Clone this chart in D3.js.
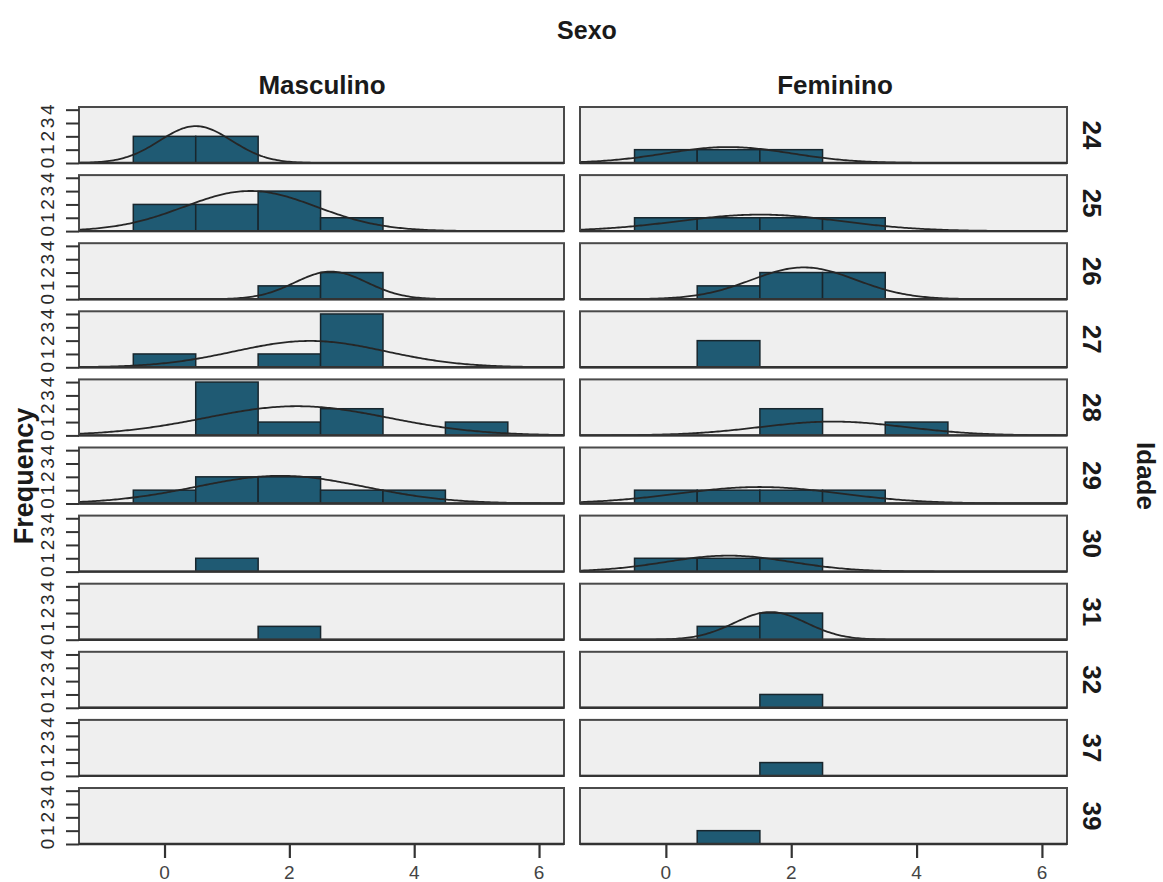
<!DOCTYPE html>
<html>
<head>
<meta charset="utf-8">
<script src="https://cdn.jsdelivr.net/npm/d3@7"></script>
<style>
  html, body { margin: 0; padding: 0; background: #ffffff; }
  svg { display: block; }
  text { font-family: "Liberation Sans", Arial, sans-serif; }
</style>
</head>
<body>
<svg id="chart" width="1163" height="882"></svg>
<script>
// ---------- data ----------
const sexes = ["Masculino", "Feminino"];
const ages = ["24", "25", "26", "27", "28", "29", "30", "31", "32", "37", "39"];
const binCenters = [0, 1, 2, 3, 4, 5];
// frequency per bin (bin centers 0..5), one row per age
const mascCounts = [
  [2, 2, 0, 0, 0, 0],
  [2, 2, 3, 1, 0, 0],
  [0, 0, 1, 2, 0, 0],
  [1, 0, 1, 4, 0, 0],
  [0, 4, 1, 2, 0, 1],
  [1, 2, 2, 1, 1, 0],
  [0, 1, 0, 0, 0, 0],
  [0, 0, 1, 0, 0, 0],
  [0, 0, 0, 0, 0, 0],
  [0, 0, 0, 0, 0, 0],
  [0, 0, 0, 0, 0, 0]
];
const femCounts = [
  [1, 1, 1, 0, 0, 0],
  [1, 1, 1, 1, 0, 0],
  [0, 1, 2, 2, 0, 0],
  [0, 2, 0, 0, 0, 0],
  [0, 0, 2, 0, 1, 0],
  [1, 1, 1, 1, 0, 0],
  [1, 1, 1, 0, 0, 0],
  [0, 1, 2, 0, 0, 0],
  [0, 0, 1, 0, 0, 0],
  [0, 0, 1, 0, 0, 0],
  [0, 1, 0, 0, 0, 0]
];
const xTicks = [0, 2, 4, 6];
const yTicks = [0, 1, 2, 3, 4];
const titleTop = "Sexo";
const titleRight = "Idade";
const titleLeft = "Frequency";

// ---------- layout ----------
const countsBySex = [mascCounts, femCounts];
const colX = [[79, 564], [580, 1067]];
const rowTop0 = 107, rowStep = 68.1, rowH = 56;
const xDomain = [-1.37, 6.4];
const yDomain = [0, 4.2];
const barFill = "#1f5a73", barStroke = "#18262d";
const panelFill = "#efefef", panelStroke = "#4a4a4a";

const svg = d3.select("#chart");

const yFor = (r) => d3.scaleLinear().domain(yDomain).range([rowTop0 + r * rowStep + rowH, rowTop0 + r * rowStep]);
const xFor = (c) => d3.scaleLinear().domain(xDomain).range(colX[c]);

function normalCurve(counts) {
  const vals = [];
  counts.forEach((n, i) => { for (let k = 0; k < n; k++) vals.push(binCenters[i]); });
  if (vals.length < 2) return null;
  const m = d3.mean(vals), sd = d3.deviation(vals);
  if (!sd || sd === 0) return null;
  const n = vals.length;
  const pts = d3.range(0, 241).map(i => {
    const x = xDomain[0] + (xDomain[1] - xDomain[0]) * i / 240;
    const y = n / (sd * Math.sqrt(2 * Math.PI)) * Math.exp(-0.5 * ((x - m) / sd) ** 2);
    return [x, y];
  });
  return pts;
}

sexes.forEach((sex, c) => {
  const x = xFor(c);
  ages.forEach((age, r) => {
    const y = yFor(r);
    const g = svg.append("g");
    const clipId = `clip-${c}-${r}`;
    g.append("clipPath").attr("id", clipId).append("rect")
      .attr("x", colX[c][0]).attr("y", y.range()[1])
      .attr("width", colX[c][1] - colX[c][0]).attr("height", rowH);
    g.append("rect")
      .attr("x", colX[c][0]).attr("y", y.range()[1])
      .attr("width", colX[c][1] - colX[c][0]).attr("height", rowH)
      .attr("fill", panelFill);
    const inner = g.append("g").attr("clip-path", `url(#${clipId})`);
    const counts = countsBySex[c][r];
    inner.selectAll("rect.bar")
      .data(binCenters.map((b, i) => ({ b, n: counts[i] })).filter(d => d.n > 0))
      .enter().append("rect").attr("class", "bar")
      .attr("x", d => x(d.b - 0.5))
      .attr("width", d => x(d.b + 0.5) - x(d.b - 0.5))
      .attr("y", d => y(d.n))
      .attr("height", d => y(0) - y(d.n))
      .attr("fill", barFill)
      .attr("stroke", barStroke)
      .attr("stroke-width", 1.5);
    const pts = normalCurve(counts);
    if (pts) {
      inner.append("path")
        .attr("d", d3.line().x(d => x(d[0])).y(d => y(d[1]))(pts))
        .attr("fill", "none").attr("stroke", "#262626").attr("stroke-width", 1.8);
    }
    g.append("rect")
      .attr("x", colX[c][0]).attr("y", y.range()[1])
      .attr("width", colX[c][1] - colX[c][0]).attr("height", rowH)
      .attr("fill", "none").attr("stroke", panelStroke).attr("stroke-width", 2);
    g.append("line")
      .attr("x1", colX[c][0]).attr("x2", colX[c][1])
      .attr("y1", y(0)).attr("y2", y(0))
      .attr("stroke", "#333").attr("stroke-width", 2.4);

    if (c === 0) {
      const ax = g.append("g").attr("transform", `translate(${colX[0][0]},0)`)
        .call(d3.axisLeft(y).tickValues(yTicks).tickSize(13).tickFormat(() => ""));
      ax.select(".domain").remove();
      ax.selectAll(".tick line").attr("stroke", "#333").attr("stroke-width", 2);
      g.selectAll("text.ylab").data(yTicks).enter().append("text").attr("class", "ylab")
        .attr("transform", d => `translate(54,${y(d)}) rotate(-90)`)
        .attr("text-anchor", "middle")
        .attr("font-size", 19).attr("fill", "#2a2a2a")
        .text(d => d);
    }
    if (c === 1) {
      g.append("text")
        .attr("transform", `translate(1083,${y.range()[1] + rowH / 2}) rotate(90)`)
        .attr("text-anchor", "middle")
        .attr("font-size", 26).attr("font-weight", "bold").attr("fill", "#1a1a1a")
        .text(age);
    }
    if (r === ages.length - 1) {
      const ax = g.append("g").attr("transform", `translate(0,${y(0)})`)
        .call(d3.axisBottom(x).tickValues(xTicks).tickSize(14).tickFormat(() => ""));
      ax.select(".domain").remove();
      ax.selectAll(".tick line").attr("stroke", "#333").attr("stroke-width", 2.2);
      g.selectAll("text.xlab").data(xTicks).enter().append("text").attr("class", "xlab")
        .attr("x", d => x(d)).attr("y", 879)
        .attr("text-anchor", "middle")
        .attr("font-size", 19).attr("fill", "#444")
        .text(d => d);
    }
  });
  svg.append("text")
    .attr("x", c === 0 ? 322 : 835).attr("y", 94)
    .attr("text-anchor", "middle")
    .attr("font-size", 26).attr("font-weight", "bold").attr("fill", "#1a1a1a")
    .text(sex);
});

svg.append("text")
  .attr("x", 587).attr("y", 39)
  .attr("text-anchor", "middle")
  .attr("font-size", 25).attr("font-weight", "bold").attr("fill", "#1a1a1a")
  .text(titleTop);

svg.append("text")
  .attr("transform", "translate(33,476) rotate(-90)")
  .attr("text-anchor", "middle")
  .attr("font-size", 27).attr("font-weight", "bold").attr("fill", "#1a1a1a")
  .text(titleLeft);

svg.append("text")
  .attr("transform", "translate(1137,476) rotate(90)")
  .attr("text-anchor", "middle")
  .attr("font-size", 26).attr("font-weight", "bold").attr("fill", "#1a1a1a")
  .text(titleRight);
</script>
</body>
</html>
